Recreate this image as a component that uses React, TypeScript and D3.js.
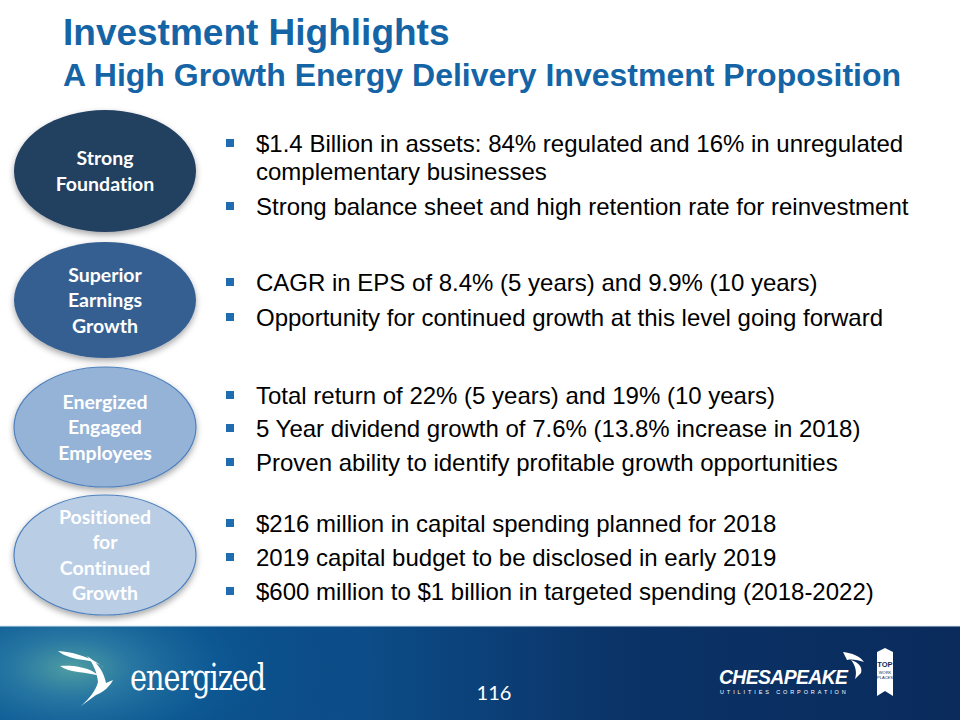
import React from "react";
import * as d3 from "d3";

const titleLines = ["Investment Highlights", "A High Growth Energy Delivery Investment Proposition"];
const pillarLabels = [
  ["Strong", "Foundation"],
  ["Superior", "Earnings", "Growth"],
  ["Energized", "Engaged", "Employees"],
  ["Positioned", "for", "Continued", "Growth"],
];
const pillarFills = ["#243F60", "#355F91", "#95B3D7", "#B9CDE5"];
const pillarCenters = [171, 300, 427, 555];
const pillarRy = [61, 58, 60, 60];
const bulletLines = [
  { text: "$1.4 Billion in assets: 84% regulated and 16% in unregulated", y: 152, bullet: true },
  { text: "complementary businesses", y: 180, bullet: false },
  { text: "Strong balance sheet and high retention rate for reinvestment", y: 215, bullet: true },
  { text: "CAGR in EPS of 8.4% (5 years) and 9.9% (10 years)", y: 291, bullet: true },
  { text: "Opportunity for continued growth at this level going forward", y: 326, bullet: true },
  { text: "Total return of 22% (5 years) and 19% (10 years)", y: 404, bullet: true },
  { text: "5 Year dividend growth of 7.6% (13.8% increase in 2018)", y: 437, bullet: true },
  { text: "Proven ability to identify profitable growth opportunities", y: 471, bullet: true },
  { text: "$216 million in capital spending planned for 2018", y: 532, bullet: true },
  { text: "2019 capital budget to be disclosed in early 2019", y: 566, bullet: true },
  { text: "$600 million to $1 billion in targeted spending (2018-2022)", y: 600, bullet: true },
];
const pageNumber = "116";

export default function App() {
  const W = 960, H = 720;
  const lineH = 25.5;
  const yScale = d3.scaleLinear().domain([0, 720]).range([0, 720]);
  return (
    <svg width={W} height={H} style={{ position: "absolute", left: 0, top: 0 }}>
      <defs>
        <radialGradient id="glow" cx="72" cy="668" r="300" gradientUnits="userSpaceOnUse" gradientTransform="matrix(1 0 0 0.5 0 334)">
          <stop offset="0" stopColor="#4f9ea2" />
          <stop offset="0.2" stopColor="#2a7aa4" stopOpacity="0.9" />
          <stop offset="0.5" stopColor="#0d5a95" stopOpacity="0.6" />
          <stop offset="1" stopColor="#0b3a70" stopOpacity="0" />
        </radialGradient>
        <linearGradient id="band" x1="0" x2="1" y1="0" y2="0">
          <stop offset="0" stopColor="#0b5a96" />
          <stop offset="0.35" stopColor="#0c4f8b" />
          <stop offset="0.65" stopColor="#0b3367" />
          <stop offset="1" stopColor="#0a2b5c" />
        </linearGradient>
        <filter id="shadow" x="-20%" y="-20%" width="140%" height="150%">
          <feDropShadow dx="0" dy="3" stdDeviation="3" floodColor="#000" floodOpacity="0.35" />
        </filter>
      </defs>
      <rect width={W} height={H} fill="#fff" />
      {titleLines.map((t, i) => (
        <text key={t} x={63} y={i === 0 ? 45 : 86} fontFamily="Liberation Sans, Arial, sans-serif" fontWeight="bold"
          fontSize={i === 0 ? 37 : 32} fill="#1565A6">{t}</text>
      ))}
      {pillarLabels.map((lines, i) => {
        const cy = yScale(pillarCenters[i]);
        const n = lines.length;
        const y0 = cy - ((n - 1) * lineH) / 2 + 7;
        return (
          <g key={i}>
            <ellipse cx={105} cy={cy} rx={91} ry={pillarRy[i]} fill={pillarFills[i]}
              stroke={i >= 2 ? "#4F81BD" : "none"} strokeWidth={1.2} filter="url(#shadow)" />
            {lines.map((l, j) => (
              <text key={j} x={105} y={y0 + j * lineH} textAnchor="middle" fontFamily="Lato, sans-serif"
                fontWeight="bold" fontSize={19.5} fill="#fff" style={{ fontVariantLigatures: "none" }}>{l}</text>
            ))}
          </g>
        );
      })}
      {bulletLines.map((b, i) => (
        <g key={i}>
          {b.bullet && <rect x={226} y={yScale(b.y) - 13} width={8} height={8} fill="#1F6DB0" />}
          <text x={256} y={yScale(b.y)} fontFamily="Liberation Sans, Arial, sans-serif" fontSize={24} fill="#000">{b.text}</text>
        </g>
      ))}
      <rect x={0} y={626} width={W} height={94} fill="url(#band)" />
      <rect x={0} y={626} width={W} height={94} fill="url(#glow)" />
      <line x1={0} x2={W} y1={626} y2={626} stroke="#d8e6f2" strokeWidth={1} />
      {/* energized bird */}
      <g fill="#fff">
        <path d="M58,651 C72,652 86,656 96,662 L104,668 C100,664 92,661 84,660 C74,659 64,656 58,651 Z" />
        <path d="M60,666 C72,665 84,667 92,671 L100,676 C94,674 86,673 78,672 C70,671 64,669 60,666 Z" />
        <path d="M87,656 C98,663 104,672 106,683 L113,680 C110,686 104,692 96,695 L81,706 C90,698 96,690 98,682 C97,672 93,663 87,656 Z" />
      </g>
      <text x={130} y={690} fontFamily="DejaVu Serif, serif" fontSize={34} fill="#fff" letterSpacing={-1.2}
        transform="translate(130 690) scale(0.845 1.12) translate(-130 -690)">energized</text>
      <text x={494} y={700} textAnchor="middle" fontFamily="Lato, sans-serif" fontSize={20} fill="#fff">{pageNumber}</text>
      {/* Chesapeake logo */}
      <text x={719} y={684} fontFamily="Liberation Sans, Arial, sans-serif" fontWeight="bold" fontStyle="italic"
        fontSize={19} fill="#fff" letterSpacing={-0.6}
        transform="translate(719 684) scale(1.02 1.1) translate(-719 -684)">CHESAPEAKE</text>
      <text x={720} y={694} fontFamily="Liberation Sans, Arial, sans-serif" fontSize={5.5} fill="#fff" letterSpacing={2.9}>UTILITIES CORPORATION</text>
      <g fill="#fff">
        <path d="M843,652 C852,653 860,656 864,662 C858,660 852,659 847,660 Z" />
        <path d="M851,660 C858,662 863,667 861,673 L855,679 C857,673 856,666 851,660 Z" />
      </g>
      <path d="M877,652 L885,648 L893,652 L893,696 L885,691 L877,696 Z" fill="#fff" />
      <text x={885} y={667} textAnchor="middle" fontFamily="Liberation Sans, Arial, sans-serif" fontWeight="bold" fontSize={7.5} fill="#0b2d5e">TOP</text>
      <text x={885} y={674} textAnchor="middle" fontFamily="Liberation Sans, Arial, sans-serif" fontSize={4} fill="#0b2d5e">WORK</text>
      <text x={885} y={679} textAnchor="middle" fontFamily="Liberation Sans, Arial, sans-serif" fontSize={4} fill="#0b2d5e">PLACES</text>
    </svg>
  );
}
